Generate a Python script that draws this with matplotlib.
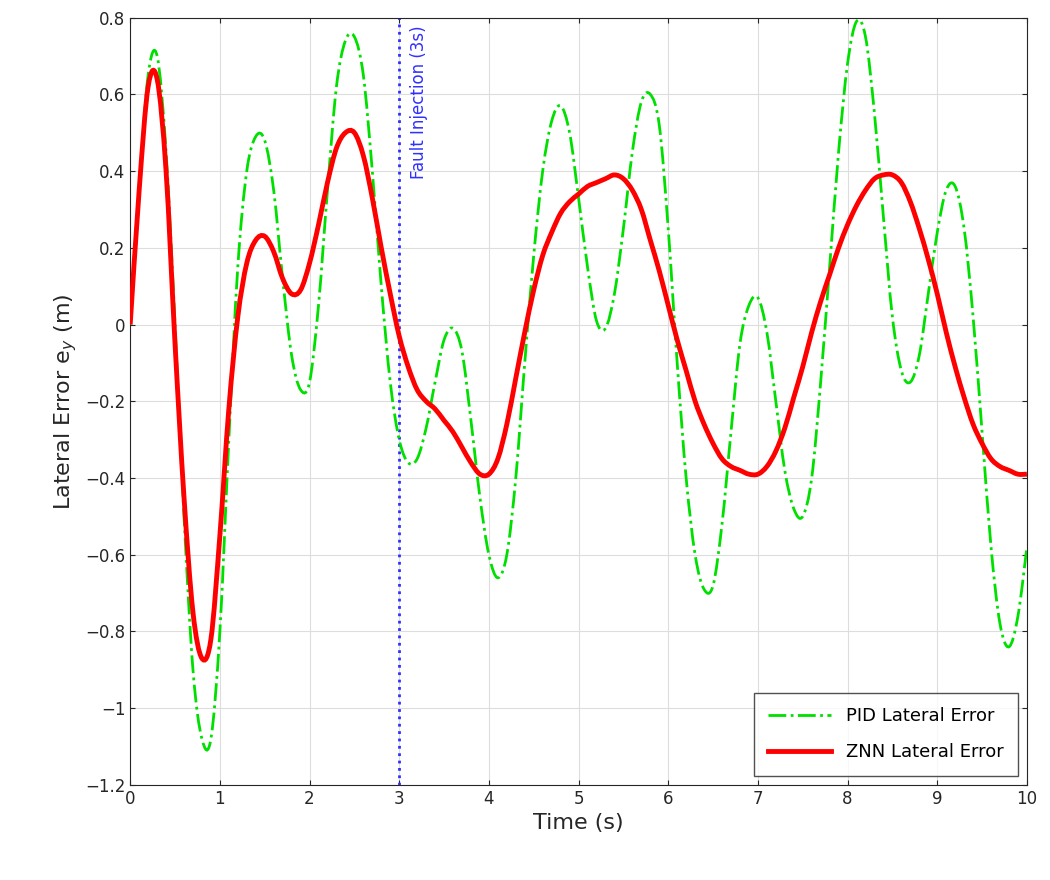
import numpy as np
import matplotlib
matplotlib.use('Agg')
import matplotlib.pyplot as plt
from matplotlib.path import Path
from matplotlib.patches import PathPatch
from matplotlib.lines import Line2D

t = np.round(np.arange(0, 10.01, 0.1), 2)

pid = [0, 0.35, 0.65, 0.70, 0.45, 0.0, -0.5, -0.9, -1.08, -1.08,
       -0.8, -0.3, 0.15, 0.40, 0.49, 0.48, 0.35, 0.12, -0.08, -0.17,
       -0.15, 0.05, 0.35, 0.62, 0.74, 0.75, 0.65, 0.40, 0.10, -0.15,
       -0.30, -0.36, -0.35, -0.27, -0.15, -0.04, -0.01, -0.07, -0.25, -0.45,
       -0.60, -0.66, -0.60, -0.40, -0.10, 0.18, 0.40, 0.53, 0.57, 0.50,
       0.33, 0.15, 0.01, -0.01, 0.08, 0.25, 0.45, 0.58, 0.60, 0.52,
       0.25, -0.10, -0.40, -0.60, -0.69, -0.68, -0.52, -0.28, -0.05, 0.05,
       0.07, -0.02, -0.20, -0.38, -0.48, -0.50, -0.40, -0.15, 0.15, 0.45,
       0.68, 0.79, 0.75, 0.55, 0.28, 0.02, -0.12, -0.15, -0.08, 0.08,
       0.24, 0.35, 0.36, 0.25, 0.02, -0.28, -0.58, -0.78, -0.84, -0.76,
       -0.58]

znn = [0, 0.35, 0.62, 0.64, 0.40, -0.05, -0.45, -0.75, -0.87, -0.82,
       -0.55, -0.22, 0.02, 0.16, 0.22, 0.23, 0.19, 0.12, 0.08, 0.09,
       0.16, 0.26, 0.37, 0.46, 0.50, 0.50, 0.44, 0.33, 0.20, 0.08,
       -0.03, -0.11, -0.17, -0.20, -0.22, -0.25, -0.28, -0.32, -0.36, -0.39,
       -0.39, -0.35, -0.26, -0.14, -0.02, 0.09, 0.18, 0.24, 0.29, 0.32,
       0.34, 0.36, 0.37, 0.38, 0.39, 0.38, 0.35, 0.30, 0.22, 0.14,
       0.05, -0.04, -0.12, -0.20, -0.26, -0.31, -0.35, -0.37, -0.38, -0.39,
       -0.39, -0.37, -0.33, -0.27, -0.19, -0.11, -0.02, 0.06, 0.13, 0.20,
       0.26, 0.31, 0.35, 0.38, 0.39, 0.39, 0.37, 0.32, 0.25, 0.17,
       0.08, -0.02, -0.11, -0.19, -0.26, -0.31, -0.35, -0.37, -0.38, -0.39,
       -0.39]

fault_t = 3


def smooth_path(x, y):
    # Catmull-Rom curve through the points, drawn as cubic Bezier segments
    p = np.column_stack([x, y])
    verts = [p[0]]
    codes = [Path.MOVETO]
    for i in range(len(p) - 1):
        p0 = p[max(i - 1, 0)]
        p1, p2 = p[i], p[i + 1]
        p3 = p[min(i + 2, len(p) - 1)]
        verts += [p1 + (p2 - p0) / 6, p2 - (p3 - p1) / 6, p2]
        codes += [Path.CURVE4] * 3
    return Path(verts, codes)


fig = plt.figure(figsize=(10.5, 8.8), dpi=100)
ax = fig.add_axes([0.124, 0.108, 0.854, 0.872])

ax.add_patch(PathPatch(smooth_path(t, pid), facecolor='none', edgecolor='#00e000',
                       linestyle='-.', linewidth=2, zorder=3))
ax.add_patch(PathPatch(smooth_path(t, znn), facecolor='none', edgecolor='red',
                       linewidth=3.5, zorder=4))
ax.axvline(fault_t, color='#3030ff', linestyle=':', linewidth=2)
ax.text(fault_t + 0.12, 0.78, 'Fault Injection (3s)', color='#3030ff', rotation=90,
        va='top', ha='left', fontsize=12)

ax.set_xlim(0, 10)
ax.set_ylim(-1.2, 0.8)
ax.set_xticks(np.arange(0, 11, 1))
ax.set_yticks(np.round(np.arange(-1.2, 0.81, 0.2), 1))
ax.set_yticklabels(['\u22121.2', '\u22121', '\u22120.8', '\u22120.6', '\u22120.4', '\u22120.2',
                    '0', '0.2', '0.4', '0.6', '0.8'])
ax.grid(True, color='#dddddd', linewidth=0.8)
ax.tick_params(labelsize=12, direction='in', top=True, right=True, colors='#262626')
for s in ax.spines.values():
    s.set_color('#262626')
ax.set_xlabel('Time (s)', fontsize=16, color='#262626')
ax.set_ylabel('Lateral Error e$_y$ (m)', fontsize=16, color='#262626')
handles = [Line2D([], [], color='#00e000', linestyle='-.', linewidth=2),
           Line2D([], [], color='red', linewidth=3.5)]
leg = ax.legend(handles, ['PID Lateral Error', 'ZNN Lateral Error'], loc='lower right',
                fontsize=13, fancybox=False, edgecolor='#262626',
                handlelength=3.5, borderpad=0.8, labelspacing=1.0)
leg.get_frame().set_linewidth(1)

fig.savefig('out.png')
